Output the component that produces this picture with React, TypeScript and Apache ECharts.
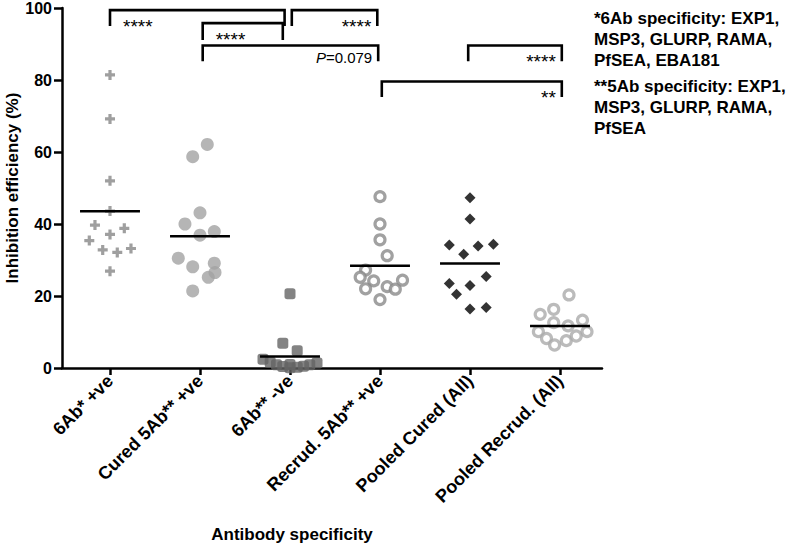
import React, { useEffect, useRef } from "react";
import * as echarts from "echarts";

const categories = [
  "6Ab* +ve",
  "Cured 5Ab** +ve",
  "6Ab** -ve",
  "Recrud. 5Ab** +ve",
  "Pooled Cured (All)",
  "Pooled Recrud. (All)",
];
const yTicks = [0, 20, 40, 60, 80, 100];

// values (% inhibition), with their horizontal scatter (in category units)
const sixAbPos = [81.4, 69.2, 52.0, 43.6, 39.7, 37.1, 38.8, 35.4, 32.8, 32.1, 33.2, 26.9];
const sixAbPosJitter = [0, 0, 0, 0, -0.167, 0, 0.159, -0.23, -0.081, 0.081, 0.233, 0];

const cured5AbPos = [62.1, 58.7, 43.1, 40.0, 37.9, 36.9, 30.5, 28.1, 29.1, 25.2, 26.5, 21.4];
const cured5AbPosJitter = [0.081, -0.081, 0, -0.167, 0.159, 0, -0.241, -0.081, 0.159, 0.092, 0.167, -0.081];

const sixAbNeg = [20.6, 6.9, 4.8, 2.4, 1.6, 0.9, 0.4, 0.1, 0.2, 0.5, 0.9, 1.4, 1.0];
const sixAbNegJitter = [0, -0.08, 0.08, -0.3, -0.22, -0.15, -0.08, 0, 0.08, 0.15, 0.22, 0.3, 0.0];

const recrud5AbPos = [47.6, 40.0, 35.6, 31.2, 27.2, 25.2, 24.2, 22.0, 22.6, 21.9, 24.4, 19.0];
const recrud5AbPosJitter = [0, 0, 0, 0.08, -0.16, -0.22, -0.07, -0.16, 0.08, 0.17, 0.25, 0];

const pooledCured = [47.3, 41.4, 34.2, 33.9, 34.4, 31.6, 25.4, 23.5, 22.9, 20.5, 16.4, 16.8];
const pooledCuredJitter = [0, 0, -0.23, 0.09, 0.26, -0.07, 0.18, -0.23, 0, -0.15, 0, 0.18];

const pooledRecrud = [20.3, 16.3, 14.9, 12.6, 11.7, 13.3, 10.1, 8.2, 6.4, 7.6, 8.9, 10.1];
const pooledRecrudJitter = [0.1, -0.07, -0.22, -0.07, 0.09, 0.25, -0.24, -0.15, -0.06, 0.07, 0.18, 0.3];

const groupValues = [sixAbPos, cured5AbPos, sixAbNeg, recrud5AbPos, pooledCured, pooledRecrud];
const groupJitter = [
  sixAbPosJitter,
  cured5AbPosJitter,
  sixAbNegJitter,
  recrud5AbPosJitter,
  pooledCuredJitter,
  pooledRecrudJitter,
];

// significance brackets: from/to (category position), level = top (value), drop = leg end (value)
const bracketFrom = [0, 1.03, 2.02, 1.03, 3.98, 3.02];
const bracketTo = [1.94, 1.92, 2.97, 2.98, 5.02, 5.02];
const bracketLevel = [99.4, 95.8, 99.4, 89.6, 89.6, 79.6];
const bracketDrop = [95.0, 91.1, 95.0, 85.2, 85.2, 75.3];
const bracketLabel = ["****", "****", "****", "{i|P}=0.079", "****", "**"];
const bracketAlign = ["left", "left", "right", "right", "right", "right"];

const legend1 = ["*6Ab specificity: EXP1,", "MSP3, GLURP, RAMA,", "PfSEA, EBA181"];
const legend2 = ["**5Ab specificity: EXP1,", "MSP3, GLURP, RAMA,", "PfSEA"];

const FONT = "'Liberation Sans', Arial, sans-serif";

const PLUS = "path://M3.4,0H6.6V3.4H10V6.6H6.6V10H3.4V6.6H0V3.4H3.4Z";

const symbolStyles: any[] = [
  { symbol: PLUS, symbolSize: 10, itemStyle: { color: "#878787" } },
  { symbol: "circle", symbolSize: 13, itemStyle: { color: "#a3a3a3" } },
  { symbol: "roundRect", symbolSize: 11, itemStyle: { color: "#646464" } },
  { symbol: "circle", symbolSize: 10, itemStyle: { color: "#ffffff", borderColor: "#8a8a8a", borderWidth: 3.2 } },
  { symbol: "diamond", symbolSize: 11, itemStyle: { color: "#000000" } },
  { symbol: "circle", symbolSize: 10, itemStyle: { color: "#ffffff", borderColor: "#aaaaaa", borderWidth: 3.2 } },
];

export default function App() {
  const ref = useRef<HTMLDivElement>(null);
  useEffect(() => {
    if (!ref.current) return;
    const chart = echarts.init(ref.current, undefined, { renderer: "svg" });

    const means = groupValues.map((vals) => vals.reduce((a, b) => a + b, 0) / vals.length);

    const scatterSeries = groupValues.map((vals, gi) => ({
      type: "scatter",
      name: categories[gi],
      data: vals.map((v, k) => [gi + groupJitter[gi][k], v]),
      ...symbolStyles[gi],
      z: 2,
    }));

    const option: any = {
      animation: false,
      grid: { left: 62, right: 188, top: 8, bottom: 177 },
      xAxis: {
        type: "value",
        min: -0.5333,
        max: 5.4667,
        splitLine: { show: false },
        axisLine: { onZero: false, lineStyle: { color: "#000", width: 2.5 } },
        axisTick: {
          customValues: [0, 1, 2, 3, 4, 5],
          length: 7,
          lineStyle: { color: "#000", width: 2.5 },
        },
        axisLabel: {
          customValues: [0, 1, 2, 3, 4, 5],
          formatter: (v: number) => categories[Math.round(v)] ?? "",
          rotate: 45,
          margin: 10,
          color: "#000",
          fontSize: 18,
          fontWeight: "bold",
          fontFamily: FONT,
        },
      },
      yAxis: {
        type: "value",
        min: yTicks[0],
        max: yTicks[yTicks.length - 1],
        interval: 20,
        splitLine: { show: false },
        axisLine: { show: true, onZero: false, lineStyle: { color: "#000", width: 2.5 } },
        axisTick: { show: true, length: 8, lineStyle: { color: "#000", width: 2.5 } },
        axisLabel: {
          margin: 10,
          color: "#000",
          fontSize: 16,
          fontWeight: "bold",
          fontFamily: FONT,
        },
      },
      graphic: [
        {
          type: "text",
          x: 12,
          y: 188,
          rotation: Math.PI / 2,
          style: {
            text: "Inhibition efficiency (%)",
            fill: "#000",
            font: `bold 17px ${FONT}`,
            align: "center",
            verticalAlign: "middle",
          },
        },
        {
          type: "text",
          x: 292,
          y: 534,
          style: {
            text: "Antibody specificity",
            fill: "#000",
            font: `bold 17px ${FONT}`,
            align: "center",
            verticalAlign: "middle",
          },
        },
        {
          type: "text",
          x: 594,
          y: 8,
          style: {
            text: legend1.join("\n"),
            fill: "#000",
            font: `bold 17px ${FONT}`,
            lineHeight: 21,
            align: "left",
            verticalAlign: "top",
          },
        },
        {
          type: "text",
          x: 594,
          y: 76,
          style: {
            text: legend2.join("\n"),
            fill: "#000",
            font: `bold 17px ${FONT}`,
            lineHeight: 21,
            align: "left",
            verticalAlign: "top",
          },
        },
      ],
      series: [
        ...scatterSeries,
        {
          type: "custom",
          name: "means",
          data: means.map((m, i) => [i, m]),
          clip: false,
          z: 5,
          renderItem: (params: any, api: any) => {
            const i = api.value(0);
            const m = api.value(1);
            const a = api.coord([i - 0.333, m]);
            const b = api.coord([i + 0.333, m]);
            return {
              type: "line",
              shape: { x1: a[0], y1: a[1], x2: b[0], y2: b[1] },
              style: { stroke: "#000", lineWidth: 2.5 },
            };
          },
        },
        {
          type: "custom",
          name: "brackets",
          data: bracketFrom.map((f, i) => [f, bracketLevel[i]]),
          clip: false,
          z: 6,
          renderItem: (params: any, api: any) => {
            const i = params.dataIndex;
            const p1 = api.coord([bracketFrom[i], bracketLevel[i]]);
            const p2 = api.coord([bracketTo[i], bracketLevel[i]]);
            const d = api.coord([bracketFrom[i], bracketDrop[i]]);
            const isStars = bracketLabel[i].indexOf("*") === 0;
            const left = bracketAlign[i] === "left";
            return {
              type: "group",
              children: [
                {
                  type: "polyline",
                  shape: {
                    points: [
                      [p1[0], d[1]],
                      [p1[0], p1[1]],
                      [p2[0], p2[1]],
                      [p2[0], d[1]],
                    ],
                  },
                  style: { stroke: "#000", lineWidth: 2.6, fill: null, lineJoin: "miter", lineCap: "butt" },
                },
                {
                  type: "text",
                  x: left ? p1[0] + 13 : p2[0] - 6,
                  y: p1[1] + (isStars ? 16 : 12),
                  style: {
                    text: bracketLabel[i],
                    fill: "#000",
                    fontSize: isStars ? 19 : 15,
                    fontFamily: FONT,
                    align: left ? "left" : "right",
                    verticalAlign: "middle",
                    rich: {
                      i: { fontStyle: "italic", fontSize: 15, fontFamily: FONT, fill: "#000" },
                    },
                  },
                },
              ],
            };
          },
        },
      ],
    };
    chart.setOption(option);
    return () => chart.dispose();
  }, []);
  return <div ref={ref} style={{ position: "absolute", left: 0, top: 0, width: 790, height: 545 }} />;
}
